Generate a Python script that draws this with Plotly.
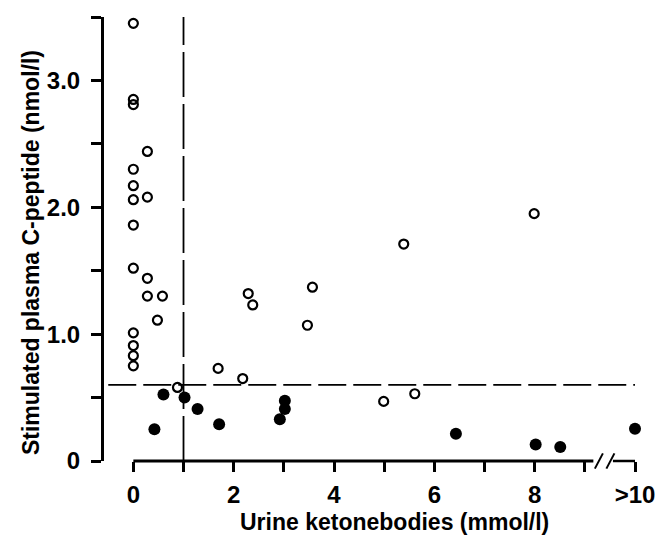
import plotly.graph_objects as go

# Urine ketone bodies (mmol/l) vs stimulated plasma C-peptide (nmol/l)
# Open circles: C-peptide responders; filled circles: low C-peptide.
open_x = [0, 0, 0, 0, 0, 0, 0, 0, 0, 0, 0, 0,
          0.28, 0.28, 0.28, 0.28, 0.58, 0.48, 0.88,
          1.69, 2.18, 2.29, 2.38, 3.47, 3.57, 4.99, 5.61, 5.39, 7.99]
open_y = [3.45, 2.85, 2.81, 2.30, 2.17, 2.06, 1.86, 1.52, 1.01, 0.91, 0.83, 0.75,
          2.44, 2.08, 1.44, 1.30, 1.30, 1.11, 0.58,
          0.73, 0.65, 1.32, 1.23, 1.07, 1.37, 0.47, 0.53, 1.71, 1.95]

filled_x = [0.42, 0.60, 1.02, 1.28, 1.71, 2.92, 3.02, 3.02, 6.43, 8.02, 8.51, 10.0]
filled_y = [0.25, 0.525, 0.50, 0.41, 0.29, 0.33, 0.41, 0.475, 0.215, 0.13, 0.11, 0.255]

x_tickvals = [0, 1, 2, 3, 4, 5, 6, 7, 8, 9, 10]
x_ticktext = ["0", "", "2", "", "4", "", "6", "", "8", "", ">10"]
y_tickvals = [0, 0.5, 1.0, 1.5, 2.0, 2.5, 3.0, 3.5]
y_ticktext = ["0", "", "1.0", "", "2.0", "", "3.0", ""]

ketone_cutoff = 1.0
cpeptide_cutoff = 0.6

FONT = "Liberation Sans, Arial, sans-serif"
X_MIN, X_MAX = -0.585, 10.0
Y_MIN, Y_MAX = 0.0, 3.5

fig = go.Figure()

fig.add_trace(go.Scatter(
    x=open_x, y=open_y, mode="markers", cliponaxis=False,
    marker=dict(symbol="circle-open", size=9, color="black",
                line=dict(width=2.2, color="black")),
    showlegend=False,
))
fig.add_trace(go.Scatter(
    x=filled_x, y=filled_y, mode="markers", cliponaxis=False,
    marker=dict(symbol="circle", size=12, color="black",
                line=dict(width=0)),
    showlegend=False,
))

shapes = []
# cut-off lines
shapes.append(dict(type="line", xref="x", yref="y",
                   x0=ketone_cutoff, x1=ketone_cutoff, y0=Y_MIN, y1=Y_MAX,
                   line=dict(color="black", width=1.8, dash="45px,7px")))
shapes.append(dict(type="line", xref="x", yref="y",
                   x0=-0.5, x1=10.0, y0=cpeptide_cutoff, y1=cpeptide_cutoff,
                   line=dict(color="black", width=1.8, dash="28px,7px")))
# x axis line with a break before the ">10" category
shapes.append(dict(type="line", xref="x", yref="paper",
                   x0=0, x1=9.17, y0=0, y1=0,
                   line=dict(color="black", width=3)))
shapes.append(dict(type="line", xref="x", yref="paper",
                   x0=9.56, x1=10.0, y0=0, y1=0,
                   line=dict(color="black", width=2.5)))
slash = 0.06 / (Y_MAX - Y_MIN)
for sx in (9.20, 9.43):
    shapes.append(dict(type="line", xref="x", yref="paper",
                       x0=sx, x1=sx + 0.16, y0=-slash, y1=slash,
                       line=dict(color="black", width=2)))

tick_font = dict(family=FONT, size=24, color="black", weight="bold")
title_font = dict(family=FONT, size=23, color="black", weight="bold")

fig.update_layout(
    width=669, height=538,
    margin=dict(l=104, r=34, t=17, b=77),
    paper_bgcolor="white", plot_bgcolor="white",
    shapes=shapes,
    xaxis=dict(range=[X_MIN, X_MAX], showgrid=False, zeroline=False,
               showline=False, ticks="outside", ticklen=10, tickwidth=2.5,
               tickcolor="black", tickvals=x_tickvals, ticktext=x_ticktext,
               tickfont=tick_font, ticklabelstandoff=2),
    yaxis=dict(range=[Y_MIN, Y_MAX], showgrid=False, zeroline=False,
               showline=True, linewidth=3, linecolor="black",
               ticks="outside", ticklen=10, tickwidth=2.5, tickcolor="black",
               tickvals=y_tickvals, ticktext=y_ticktext,
               tickfont=tick_font, ticklabelstandoff=6),
    annotations=[
        dict(text="Urine ketonebodies (mmol/l)", xref="x", yref="paper",
             x=5.2, y=-0.137, showarrow=False, xanchor="center",
             yanchor="middle", font=title_font),
        dict(text="Stimulated plasma C-peptide (nmol/l)", xref="paper",
             yref="paper", x=-0.136, y=0.47, showarrow=False,
             textangle=-90, xanchor="center", yanchor="middle",
             font=title_font),
    ],
)

fig.write_html("out.html")
